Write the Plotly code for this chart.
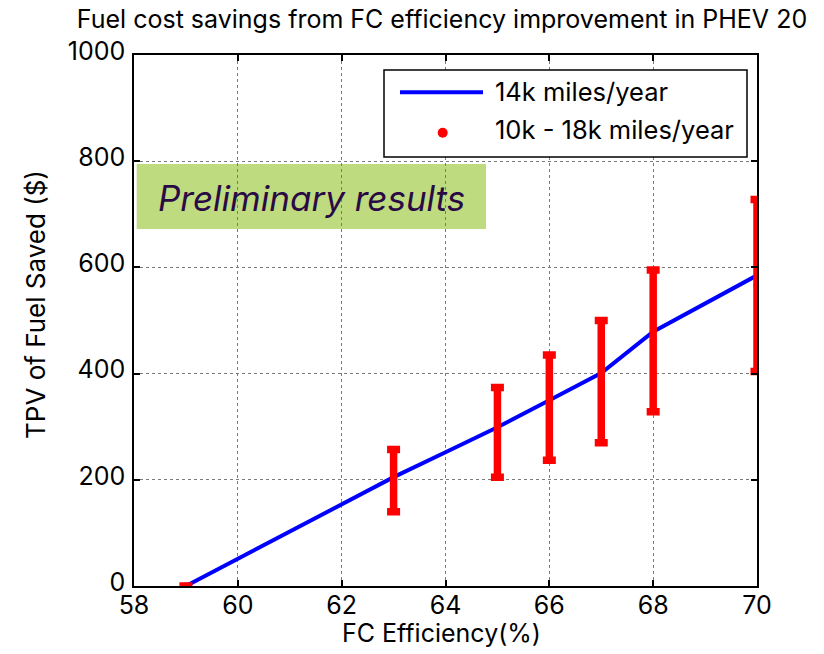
import plotly.graph_objects as go

# ---- data ----
eff_line = [59, 60, 61, 62, 63, 64, 65, 66, 67, 68, 69, 70]
tpv_14k = [0, 51, 102, 154, 205, 252, 299, 350, 401, 479, 532, 585]

eff_range = [59, 63, 65, 66, 67, 68, 70]
tpv_low = [0, 140, 205, 237, 270, 328, 404]
tpv_high = [0, 257, 374, 435, 500, 595, 728]

x_ticks = [58, 60, 62, 64, 66, 68, 70]
y_ticks = [0, 200, 400, 600, 800, 1000]

title_text = "Fuel cost savings from FC efficiency improvement in PHEV 20"
x_title = "FC Efficiency(%)"
y_title = "TPV of Fuel Saved ($)"
legend_labels = ["14k miles/year", "10k - 18k miles/year"]
note_text = "Preliminary results"

# ---- layout helpers (pixel -> paper) ----
FONT = "Inter, Liberation Sans, Arial, sans-serif"
W, H = 824, 654
L, R, T, B = 134, 757, 55, 586


def fx(px):
    return (px - L) / (R - L)


def fy(py):
    return (B - py) / (B - T)


mid = [(lo + hi) / 2 for lo, hi in zip(tpv_low, tpv_high)]
half = [(hi - lo) / 2 for lo, hi in zip(tpv_low, tpv_high)]

fig = go.Figure()
fig.add_trace(go.Scatter(
    x=eff_line, y=tpv_14k, mode="lines",
    line=dict(color="#0000FF", width=4),
    name=legend_labels[0], showlegend=False,
))
fig.add_trace(go.Scatter(
    x=eff_range, y=mid, mode="markers",
    marker=dict(color="#FF0000", size=7),
    error_y=dict(type="data", array=half, symmetric=True,
                 color="#FF0000", thickness=7.5, width=6.5),
    name=legend_labels[1], showlegend=False,
))

axis_common = dict(
    showline=True, linecolor="black", linewidth=1.5, mirror="ticks",
    ticks="inside", ticklen=6, tickwidth=1.5, tickcolor="black",
    showgrid=True, gridcolor="#7a7a7a", griddash="dot", gridwidth=1,
    zeroline=False, automargin=False,
    tickfont=dict(family=FONT, size=25, color="black"),
)

fig.update_layout(
    width=W, height=H,
    margin=dict(l=L, r=W - R, t=T, b=H - B),
    paper_bgcolor="white", plot_bgcolor="white",
    font=dict(family=FONT, color="black"),
    title=dict(text=title_text, x=442 / W, xanchor="center",
               y=1 - 19 / H, yanchor="middle",
               font=dict(family=FONT, size=25, color="black")),
    xaxis=dict(range=[58, 70], tickvals=x_ticks,
               ticklabelstandoff=-4, **axis_common),
    yaxis=dict(range=[0, 1000], tickvals=y_ticks,
               ticklabelstandoff=2, ticklabelshift=-4, **axis_common),
    showlegend=False,
)

shapes = [
    # green note box
    dict(type="rect", xref="paper", yref="paper",
         x0=fx(136.7), x1=fx(486), y0=fy(229), y1=fy(164),
         fillcolor="#BEDB80", line=dict(width=0), layer="below"),
    # legend box
    dict(type="rect", xref="paper", yref="paper",
         x0=fx(384), x1=fx(747), y0=fy(157), y1=fy(70),
         fillcolor="white", line=dict(color="black", width=1.5), layer="above"),
    # legend line sample
    dict(type="line", xref="paper", yref="paper",
         x0=fx(400), x1=fx(483), y0=fy(92.3), y1=fy(92.3),
         line=dict(color="#0000FF", width=4), layer="above"),
    # legend dot sample
    dict(type="circle", xref="paper", yref="paper",
         x0=fx(437.7), x1=fx(447.7), y0=fy(137.7), y1=fy(127.7),
         fillcolor="#FF0000", line=dict(width=0), layer="above"),
]
fig.update_layout(shapes=shapes)

annotations = [
    # axis titles
    dict(text=x_title, xref="paper", yref="paper",
         x=fx(441), y=fy(633), xanchor="center", yanchor="middle",
         showarrow=False, font=dict(family=FONT, size=25, color="black")),
    dict(text=y_title, xref="paper", yref="paper", textangle=-90,
         x=fx(35), y=fy(304), xanchor="center", yanchor="middle",
         showarrow=False, font=dict(family=FONT, size=26, color="black")),
    # note box text
    dict(text=note_text, xref="paper", yref="paper",
         x=fx(311.5), y=fy(198), xanchor="center", yanchor="middle",
         showarrow=False,
         font=dict(family=FONT, size=35, color="#2A0A45", style="italic")),
    # legend texts
    dict(text=legend_labels[0], xref="paper", yref="paper",
         x=fx(492.7), y=fy(91), xanchor="left", yanchor="middle",
         showarrow=False, font=dict(family=FONT, size=25.5, color="black")),
    dict(text=legend_labels[1], xref="paper", yref="paper",
         x=fx(492.7), y=fy(129.5), xanchor="left", yanchor="middle",
         showarrow=False, font=dict(family=FONT, size=25.5, color="black")),
]
fig.update_layout(annotations=annotations)

fig.write_html("out.html",
               config={"displayModeBar": False},
               post_script="document.body.style.margin='0';document.body.style.padding='0';")
